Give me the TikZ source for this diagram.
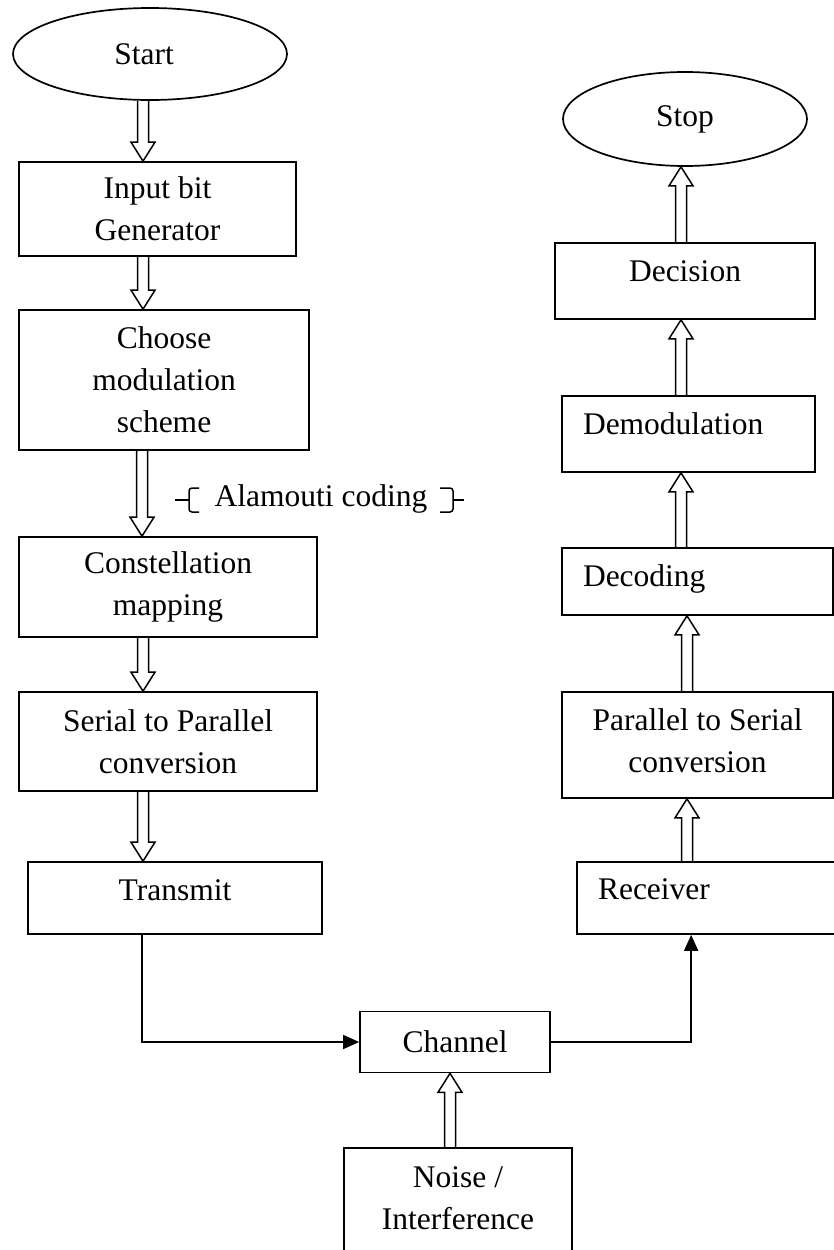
\documentclass[tikz,border=0pt]{standalone}
\usepackage{fontspec}
\setmainfont{Liberation Serif}
\usetikzlibrary{arrows.meta,calc,shapes.geometric}

\newcommand\bodyfont{\fontsize{31.5}{42}\selectfont}
% shift a single line of text up without changing its box
\newcommand\liftby[2]{\raisebox{#1pt}[\height][\depth]{#2}}

% hollow block arrow on the vertical line x = #3, from anchor #1 to anchor #2
\newcommand\blockarrow[3]{%
  \draw[blockarrow] let \p1=(#1), \p2=(#2), \n1={ifthenelse(\y1>\y2,1,-1)} in
    ({#3pt-5.5pt},\y1) -- ({#3pt-5.5pt},{\y2+\n1*19pt}) -- ({#3pt-12pt},{\y2+\n1*19pt})
    -- ({#3pt},\y2)
    -- ({#3pt+12pt},{\y2+\n1*19pt}) -- ({#3pt+5.5pt},{\y2+\n1*19pt}) -- ({#3pt+5.5pt},\y1);}

\tikzset{
  box/.style={draw, line width=1.7pt, inner sep=0pt, align=center, font=\bodyfont},
  oval/.style={draw, ellipse, line width=1.7pt, inner sep=0pt, font=\bodyfont},
  lbox/.style={box, align=left, inner xsep=21pt},
  plain/.style={inner sep=0pt, align=center, font=\bodyfont},
  blockarrow/.style={line width=1.5pt, line join=miter},
  wire/.style={line width=1.7pt},
  tip/.style={-{Triangle[length=16pt,width=14pt]}},
  bracket/.style={line width=1.5pt, rounded corners=3pt},
}

\begin{document}
\begin{tikzpicture}[x=1pt, y=-1pt]
\useasboundingbox (0,0) rectangle (834,1250);

% transmitter chain
\node[oval, minimum width=274pt, minimum height=92pt] (start) at (150,54) {\hspace*{-12pt}Start};
\node[box, minimum width=277pt, minimum height=94pt] (inbit) at (157.5,209) {Input bit\\Generator};
\node[box, minimum width=290pt, minimum height=140pt] (choose) at (164,380) {Choose\\modulation\\scheme};
\node[box, minimum width=298pt, minimum height=100pt] (const) at (168,587) {Constellation\\mapping};
\node[box, minimum width=298pt, minimum height=99pt] (serial) at (168,741.5) {Serial to Parallel\\conversion};
\node[box, minimum width=294pt, minimum height=72pt] (transmit) at (175,898) {\liftby{8}{Transmit}};

% channel and noise source
\node[box, minimum width=190pt, minimum height=61pt] (channel) at (455,1042) {Channel};
\node[box, minimum width=228pt, minimum height=114pt] (noise) at (458,1205) {};
\node[plain] (noise-text) at (458,1198) {Noise /\\Interference};

% receiver chain
\node[oval, minimum width=244pt, minimum height=94pt] (stop) at (685,119) {Stop};
\node[box, minimum width=260pt, minimum height=76pt] (decision) at (685,281) {\liftby{10}{Decision}};
\node[lbox, text width=211pt, minimum height=76pt] (demod) at (688.5,434) {\liftby{10}{Demodulation}};
\node[lbox, text width=229pt, minimum height=67pt] (decoding) at (697.5,581.5) {\liftby{3}{Decoding}};
\node[box, minimum width=271pt, minimum height=106pt] (parallel) at (697.5,745) {};
\node[plain] (parallel-text) at (697.5,741) {Parallel to Serial\\conversion};
\node[lbox, text width=241pt, minimum height=72pt] (receiver) at (718.5,898) {\liftby{9}{Receiver}};

% coding label with its brackets
\node[plain] (alam) at (321,499) {Alamouti coding};
\draw[bracket] (199,488) -- (189,488) -- (189,500) -- (189,512) -- (199,512);
\draw[line width=1.5pt] (175,500) -- (189,500);
\draw[bracket] (440,488) -- (453,488) -- (453,500) -- (453,512) -- (440,512);
\draw[line width=1.5pt] (453,500) -- (464,500);

% block arrows between stages
\blockarrow{start.south}{inbit.north}{143}
\blockarrow{inbit.south}{choose.north}{143}
\blockarrow{choose.south}{const.north}{142}
\blockarrow{const.south}{serial.north}{143}
\blockarrow{serial.south}{transmit.north}{143}
\blockarrow{noise.north}{channel.south}{450}
\blockarrow{receiver.north}{parallel.south}{687}
\blockarrow{parallel.north}{decoding.south}{687}
\blockarrow{decoding.north}{demod.south}{681}
\blockarrow{demod.north}{decision.south}{681}
\blockarrow{decision.north}{stop.south}{681}

% signal path through the channel
\draw[wire, tip] ($(transmit.south west)+(115,0)$) |- (channel.west);
\draw[wire, tip] (channel.east) -| ($(receiver.south west)+(115,0)$);
\end{tikzpicture}
\end{document}
